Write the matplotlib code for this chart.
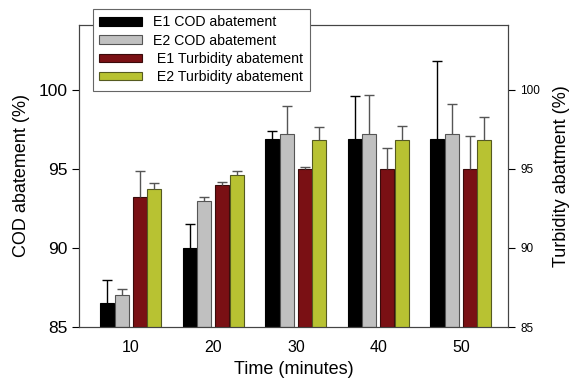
import matplotlib
matplotlib.use("Agg")
import matplotlib.pyplot as plt
import numpy as np

plt.rcParams['font.family'] = ['Liberation Sans', 'DejaVu Sans']

times = ["10", "20", "30", "40", "50"]
e1_cod = [86.5, 90.0, 96.9, 96.9, 96.9]
e1_cod_err = [1.5, 1.5, 0.5, 2.7, 4.95]
e2_cod = [87.0, 93.0, 97.2, 97.2, 97.2]
e2_cod_err = [0.4, 0.2, 1.8, 2.5, 1.9]
e1_turb = [93.2, 94.0, 95.0, 95.0, 95.0]
e1_turb_err = [1.65, 0.2, 0.1, 1.35, 2.05]
e2_turb = [93.7, 94.6, 96.85, 96.85, 96.85]
e2_turb_err = [0.4, 0.25, 0.8, 0.85, 1.45]

labels = ["E1 COD abatement", "E2 COD abatement", " E1 Turbidity abatement", " E2 Turbidity abatement"]
colors = ["#000000", "#c0c0c0", "#7a1014", "#b8c232"]
edges = ["#000000", "#555555", "#3a0a0a", "#555a20"]
errc = ["#000000", "#555555", "#555555", "#555555"]

fig = plt.figure(figsize=(5.76, 3.85), dpi=100)
ax = fig.add_axes([79/576, 1-327/385, (508-79)/576, (327-25)/385])
ax2 = ax.twinx()

x = np.arange(len(times))
offsets = [-0.285, -0.11, 0.105, 0.285]
w = 0.17
series = [(e1_cod, e1_cod_err, ax), (e2_cod, e2_cod_err, ax),
          (e1_turb, e1_turb_err, ax2), (e2_turb, e2_turb_err, ax2)]
handles = []
for i, (vals, errs, a) in enumerate(series):
    b = a.bar(x + offsets[i], np.array(vals) - 85, width=w, bottom=85,
              color=colors[i], edgecolor=edges[i], linewidth=0.8, label=labels[i], zorder=2)
    handles.append(b)
    eb = a.errorbar(x + offsets[i], vals, yerr=[np.zeros(len(errs)), errs], fmt='none',
                    ecolor=errc[i], elinewidth=1.0, capsize=3.3, capthick=1.0, zorder=3)
    eb[1][0].set_visible(False)

for a in (ax, ax2):
    a.set_ylim(85, 104.1)
    a.set_yticks([85, 90, 95, 100])
    a.set_xlim(-0.63, 4.57)
ax.set_xticks(x)
ax.set_xticklabels(times)
ax.tick_params(axis='x', length=0, labelsize=11.5, pad=9)
ax.tick_params(axis='y', direction='out', length=5, labelsize=12.5)
ax2.tick_params(axis='y', direction='out', length=5, labelsize=8.5, pad=4)
for a in (ax, ax2):
    for s in a.spines.values():
        s.set_color("#444444")
        s.set_linewidth(0.8)

ax.set_ylabel("COD abatement (%)", fontsize=13, labelpad=6)
ax2.set_ylabel("Turbidity abatment (%)", fontsize=13, labelpad=9)
ax.set_xlabel("Time (minutes)", fontsize=13, labelpad=5)

leg = fig.legend(handles=handles, labels=labels, loc='upper left',
                 bbox_to_anchor=(93/576, 1-9/385), fontsize=10.2, frameon=True,
                 fancybox=False, edgecolor="#666666", framealpha=1,
                 handlelength=3.0, handleheight=0.55, labelspacing=0.3,
                 borderpad=0.45, handletextpad=0.8, borderaxespad=0)
leg.get_frame().set_linewidth(0.8)
leg.set_zorder(10)

fig.savefig("out.png", dpi=100)
